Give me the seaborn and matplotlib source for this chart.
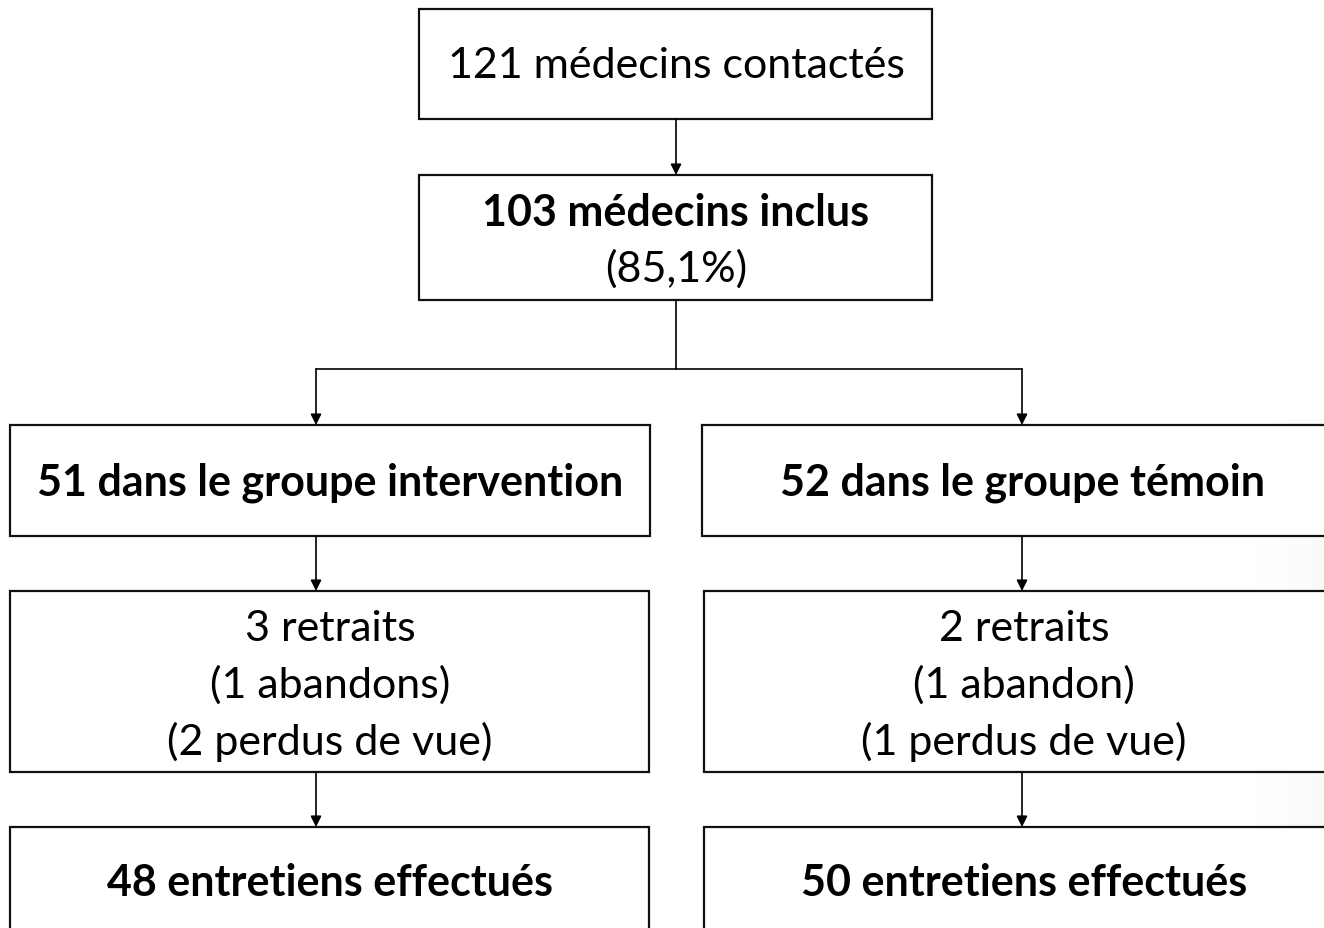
import numpy as np
import matplotlib
matplotlib.use("Agg")
import matplotlib.pyplot as plt
import seaborn as sns
from matplotlib.patches import Rectangle

# Flowchart content
top_labels = ["121 médecins contactés"]
included_labels = ["103 médecins inclus", "(85,1%)"]
group_labels = ["51 dans le groupe intervention", "52 dans le groupe témoin"]
withdraw_left = ["3 retraits", "(1 abandons)", "(2 perdus de vue)"]
withdraw_right = ["2 retraits", "(1 abandon)", "(1 perdus de vue)"]
final_labels = ["48 entretiens effectués", "50 entretiens effectués"]

sns.set_theme(style="white")
plt.rcParams['font.family'] = ['Lato', 'DejaVu Sans']

fig = plt.figure(figsize=(13.24, 9.29), dpi=100)
ax = fig.add_axes([0, 0, 1, 1])
ax.set_xlim(0, 1324)
ax.set_ylim(929, 0)
ax.axis("off")

# faint slide shading at the right edge
grad = np.linspace(0, 1, 100)[None, :] ** 2
ax.imshow(grad, extent=(1224, 1324, 929, 420), cmap="Greys", vmin=0, vmax=22,
          aspect="auto", zorder=0)

lw = 1.6
fs = 31


def box(x0, y0, x1, y1):
    ax.add_patch(Rectangle((x0, y0), x1 - x0, y1 - y0, facecolor="white",
                           edgecolor="#111111", lw=lw, zorder=2))


def arrow(x, y0, y1):
    ax.annotate("", xy=(x, y1), xytext=(x, y0),
                arrowprops=dict(arrowstyle="-|>", color="black", lw=1.2,
                                mutation_scale=16, shrinkA=0, shrinkB=0),
                zorder=3)


def label(x, y, s, bold=False):
    ax.text(x, y, s, ha="center", va="center", fontsize=fs,
            fontweight="bold" if bold else "normal", color="black", zorder=4)


# top box
box(419, 10, 932, 120)
label(676, 66, top_labels[0])
arrow(676, 120, 176)

# included box
box(419, 176, 932, 301)
label(676, 213, included_labels[0], bold=True)
label(676, 269, included_labels[1])

# split
ax.plot([676, 676], [301, 370], color="black", lw=1.2, zorder=3)
ax.plot([316, 1022], [370, 370], color="black", lw=1.2, zorder=3)
arrow(316, 370, 426)
arrow(1022, 370, 426)

# group boxes
box(10, 426, 650, 537)
box(702, 426, 1340, 537)
label(330, 483, group_labels[0], bold=True)
label(1022, 483, group_labels[1], bold=True)
arrow(316, 537, 592)
arrow(1022, 537, 592)

# withdrawals
box(10, 592, 649, 773)
box(704, 592, 1340, 773)
for i, (a, b) in enumerate(zip(withdraw_left, withdraw_right)):
    label(330, 629 + 56.5 * i, a)
    label(1024, 629 + 56.5 * i, b)
arrow(316, 773, 828)
arrow(1022, 773, 828)

# final boxes
box(10, 828, 649, 960)
box(704, 828, 1340, 960)
label(330, 883, final_labels[0], bold=True)
label(1024, 883, final_labels[1], bold=True)

fig.savefig("out.png", dpi=100)
